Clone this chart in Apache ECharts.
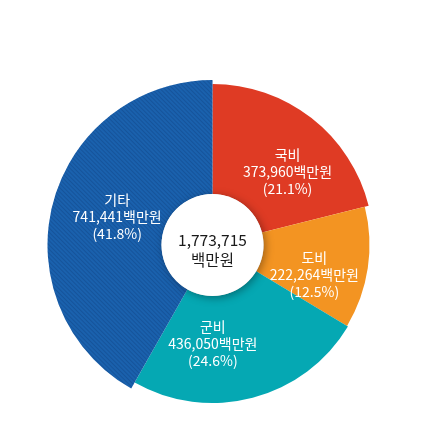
<!DOCTYPE html>
<html><head><meta charset="utf-8">
<script src="https://cdn.jsdelivr.net/npm/echarts@6/dist/echarts.min.js"></script>
<style>html,body{margin:0;padding:0;background:#fff}#c{width:425px;height:423px}</style>
</head><body><div id="c"></div>
<script>
const categories = ['국비', '도비', '군비', '기타'];
const values = [373960, 222264, 436050, 741441];
const unit = '백만원';
const totalValue = values.reduce((a, b) => a + b, 0);

const colors = ['#DF3B24', '#F39422', '#05A8B3', '#1A61AD'];
const outerRadii = [161, 157, 158, 165];
const labelOffsets = [[8, 13], [-4, 14], [-27, -5], [12, 0]];
const CENTER = [212.5, 245];
const FONT = '"Noto Sans CJK KR", "Noto Sans", sans-serif';
const fmt = v => v.toLocaleString('en-US');

const sliceSeries = categories.map((name, i) => ({
  type: 'pie',
  center: CENTER,
  radius: [51, outerRadii[i]],
  startAngle: 90,
  clockwise: true,
  silent: true,
  percentPrecision: 1,
  labelLine: { show: false },
  data: categories.map((n, j) => {
    const own = j === i;
    const item = {
      name: n,
      value: values[j],
      itemStyle: own ? { color: colors[j] } : { color: 'rgba(0,0,0,0)' },
      label: own ? {
        show: true,
        position: 'inside',
        offset: labelOffsets[j],
        color: '#fff',
        fontSize: 14,
        lineHeight: 17,
        fontFamily: FONT,
        formatter: p => p.name + '\n' + fmt(p.value) + unit + '\n(' + p.percent.toFixed(1) + '%)'
      } : { show: false }
    };
    if (own && j === 3) {
      item.itemStyle.decal = {
        symbol: 'rect',
        symbolSize: 1,
        dashArrayX: [1, 0],
        dashArrayY: [1, 2],
        rotation: Math.PI / 4,
        color: 'rgba(0,20,70,0.18)'
      };
    }
    return item;
  })
}));

const centerSeries = {
  type: 'pie',
  center: CENTER,
  radius: [0, 51],
  silent: true,
  z: 10,
  labelLine: { show: false },
  data: [{
    value: totalValue,
    itemStyle: { color: '#fff', shadowBlur: 8, shadowOffsetX: 2, shadowOffsetY: 2, shadowColor: 'rgba(0,0,0,0.35)' },
    label: {
      show: true,
      position: 'center',
      offset: [0, 5],
      color: '#1a1a1a',
      fontSize: 15.5,
      lineHeight: 20,
      fontFamily: FONT,
      formatter: p => fmt(p.value) + '\n' + unit
    }
  }]
};

const chart = echarts.init(document.getElementById('c'), null, { renderer: 'canvas' });
chart.setOption({
  animation: false,
  backgroundColor: '#fff',
  series: [...sliceSeries, centerSeries]
});
</script></body></html>
